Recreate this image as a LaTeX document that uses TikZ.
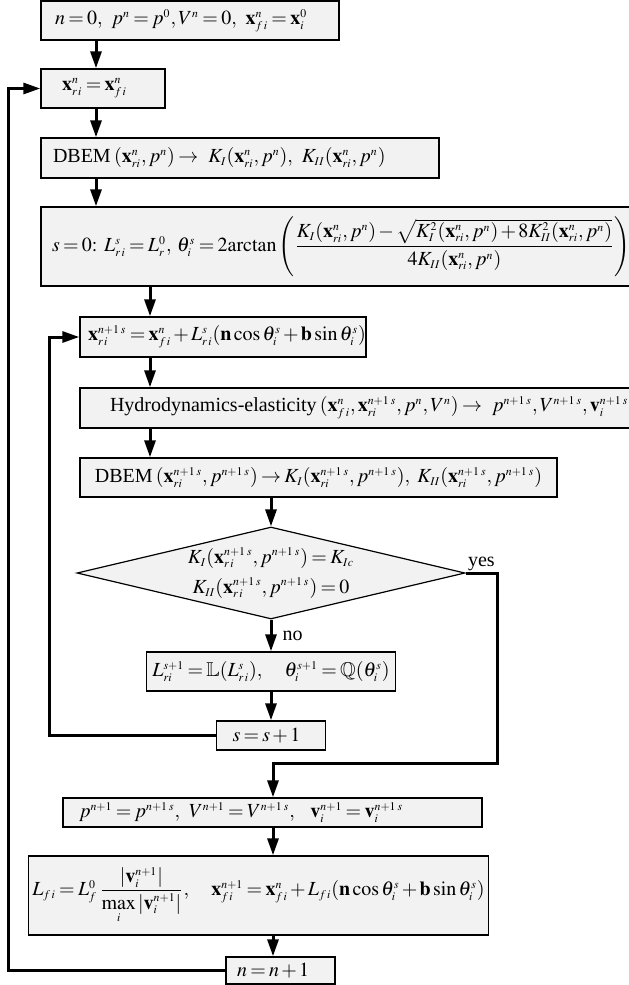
\documentclass[tikz,border=0pt]{standalone}
\usepackage{amsmath,amssymb}
\usepackage{mathptmx}
\usepackage{fontspec}
\setmainfont{Liberation Serif}
\usetikzlibrary{arrows.meta,positioning,shapes.geometric}
\definecolor{boxgray}{RGB}{242,242,242}
% smaller scripts and tighter math spacing, as in the original equations
\DeclareMathSizes{10}{10}{5.9}{4.8}
\thinmuskip=2mu
\medmuskip=2mu plus 1mu minus 1mu
\thickmuskip=3mu plus 2mu

\begin{document}
\begin{tikzpicture}[x=0.5pt,y=-0.5pt,
    stepbox/.style={draw=black,fill=boxgray,line width=0.7pt,rectangle,inner ysep=0pt,
      font=\fontsize{10}{15}\selectfont},
    flow/.style={-{Triangle[length=8.5pt,width=5.5pt]},line width=1.5pt},
    lbl/.style={font=\fontsize{10}{12}\selectfont,inner sep=1pt}]
    \useasboundingbox (0,0) rectangle (628,985);
    % Spines of the flow
    \coordinate (axA) at (96,0);
    \coordinate (axB) at (150,0);
    \coordinate (axC) at (273,0);
    \coordinate (lpN) at (8.5,0);
    \coordinate (lpS) at (49.5,0);
    \coordinate (yturn) at (497,763);
    % Outer loop (time step n)
    \node[stepbox,minimum width=149pt,minimum height=19.5pt,text width=135pt,inner xsep=7pt,align=left]
      (init) at (190,20.5) {\mbox{$n=0,\ p^n=p^0, V^n=0,\ \mathbf{x}^n_{f\,i}=\mathbf{x}^0_i$}};
    \node[stepbox,minimum width=62pt,minimum height=19.5pt,text width=41pt,inner xsep=10.5pt,align=left]
      (xr) at (103,88.5) {\mbox{$\mathbf{x}^n_{r\,i}=\mathbf{x}^n_{f\,i}$}};
    \node[stepbox,minimum width=199pt,minimum height=20pt,text width=187pt,inner xsep=6pt,align=left]
      (dbemA) at (240,158) {\mbox{DBEM\,$(\mathbf{x}^n_{ri},p^n)\rightarrow\ K_I(\mathbf{x}^n_{ri},p^n),\ K_{II}(\mathbf{x}^n_{ri},p^n)$}};
    \node[stepbox,minimum width=295.5pt,minimum height=39.5pt,text width=284.5pt,inner xsep=5.5pt,align=left]
      (szero) at (336.5,246.5) {\mbox{$s=0{:}\;\;L^s_{r\,i}=L^0_r,\;\theta^s_i=2\mathrm{arctan}\left(\dfrac{K_I(\mathbf{x}^n_{ri},p^n)-\sqrt{K_I^2(\mathbf{x}^n_{ri},p^n)+8K_{II}^2(\mathbf{x}^n_{ri},p^n)}}{4K_{II}(\mathbf{x}^n_{ri},p^n)}\right)$}};
    % Inner loop (iteration s)
    \node[stepbox,minimum width=143pt,minimum height=20pt,text width=135pt,inner xsep=4pt,align=left]
      (xs) at (223,337) {\mbox{$\mathbf{x}^{n+1\;s}_{r\,i}=\mathbf{x}^n_{f\,i}+L^s_{r\,i}(\mathbf{n}\cos\theta^s_i+\mathbf{b}\sin\theta^s_i)$}};
    \node[stepbox,minimum width=285pt,minimum height=20pt,text width=255pt,inner xsep=15pt,align=left]
      (hydro) at (365,408) {\mbox{Hydrodynamics-elasticity\,$(\mathbf{x}^n_{f\,i},\mathbf{x}^{n+1\;s}_{ri},p^n,V^n)\rightarrow\ p^{n+1\;s},V^{n+1\;s},\mathbf{v}^{n+1\;s}_i$}};
    \node[stepbox,minimum width=238.5pt,minimum height=19.5pt,inner xsep=4pt]
      (dbemB) at (318.5,477.5) {DBEM\,$(\mathbf{x}^{n+1\;s}_{ri},p^{n+1\;s})\rightarrow K_I(\mathbf{x}^{n+1\;s}_{ri},p^{n+1\;s}),\ K_{II}(\mathbf{x}^{n+1\;s}_{ri},p^{n+1\;s})$};
    \node[draw=black,fill=boxgray,line width=0.6pt,diamond,aspect=4.2,inner sep=-6pt,
      minimum width=194pt,minimum height=46pt,align=center,font=\fontsize{10}{15}\selectfont]
      (dia) at (271,573) {$K_I(\mathbf{x}^{n+1\;s}_{r\,i},p^{n+1\;s})=K_{Ic}$\\$K_{II}(\mathbf{x}^{n+1\;s}_{r\,i},p^{n+1\;s})=0$};
    \node[stepbox,minimum width=118.5pt,minimum height=19.5pt,inner xsep=3pt]
      (Ldef) at (271,671.5) {$L^{s+1}_{ri}=\mathbb{L}(L^s_{r\,i}),\quad \theta^{s+1}_i=\mathbb{Q}(\theta^s_i)$};
    \node[stepbox,minimum width=54.5pt,minimum height=14.5pt,text width=38.5pt,inner xsep=8pt,align=left]
      (sinc) at (271,735.5) {\mbox{$s=s+1$}};
    % Update of the front
    \node[stepbox,minimum width=209.5pt,minimum height=14.5pt,text width=193.5pt,inner xsep=8pt,align=left]
      (pupd) at (272.5,812.5) {\mbox{$p^{n+1}=p^{n+1\;s},\ V^{n+1}=V^{n+1\;s},\ \ \mathbf{v}^{n+1}_i=\mathbf{v}^{n+1\;s}_i$}};
    \node[stepbox,minimum width=223.5pt,minimum height=39.5pt,inner xsep=2pt]
      (Lfi) at (258.5,895.5) {$L_{f\,i}=L^0_f\,\dfrac{\left|\mathbf{v}^{n+1}_i\right|}{\max\limits_i\left|\mathbf{v}^{n+1}_i\right|},\quad \mathbf{x}^{n+1}_{f\,i}=\mathbf{x}^n_{f\,i}+L_{f\,i}(\mathbf{n}\cos\theta^s_i+\mathbf{b}\sin\theta^s_i)$};
    \node[stepbox,minimum width=54.5pt,minimum height=13.5pt,text width=43.5pt,inner xsep=5.5pt,align=left]
      (ninc) at (280.5,970.5) {\mbox{$n=n+1$}};
    % Connectors
    \draw[flow] (init.south -| axA) -- (xr.north -| axA);
    \draw[flow] (xr.south -| axA) -- (dbemA.north -| axA);
    \draw[flow] (dbemA.south -| axA) -- (szero.north -| axA);
    \draw[flow] (szero.south -| axB) -- (xs.north -| axB);
    \draw[flow] (xs.south -| axB) -- (hydro.north -| axB);
    \draw[flow] (hydro.south -| axB) -- (dbemB.north -| axB);
    \draw[flow] (dbemB.south -| dia.north) -- (dia.north);
    \draw[flow] (dia.south) -- node[lbl,right=4pt] (no) {no} (Ldef.north);
    \draw[flow] (Ldef.south) -- (sinc.north);
    \draw[flow] (sinc.west) -- (sinc.west -| lpS) |- (xs.west);
    \draw[flow] (dia.east) -| (yturn) -| (pupd.north -| axC);
    \node[lbl,anchor=south west] (yes) at (dia.east) {yes};
    \draw[flow] (pupd.south -| axC) -- (Lfi.north -| axC);
    \draw[flow] (Lfi.south -| axC) -- (ninc.north -| axC);
    \draw[flow] (ninc.west) -- (ninc.west -| lpN) |- (xr.west);
  \end{tikzpicture}
\end{document}
